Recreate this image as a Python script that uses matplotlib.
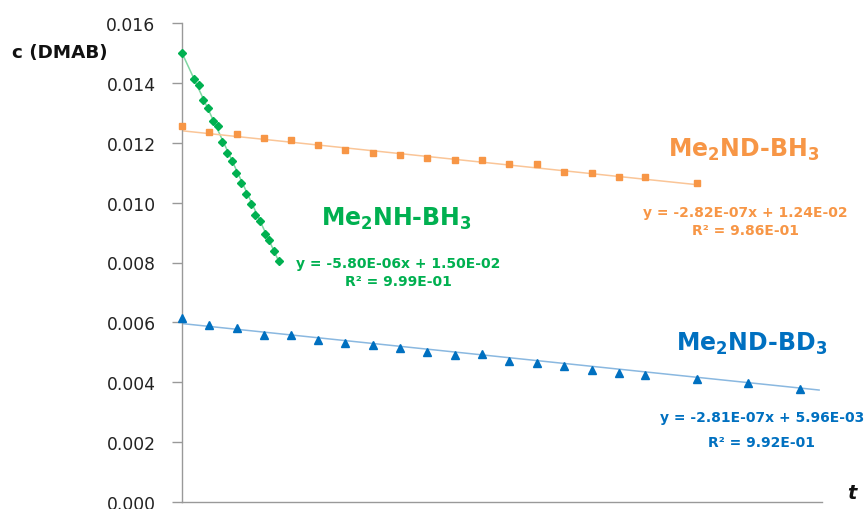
import numpy as np
import matplotlib
matplotlib.use("Agg")
import matplotlib.pyplot as plt

plt.rcParams['font.family'] = ['DejaVu Sans']
plt.rcParams['mathtext.fontset'] = 'dejavusans'

# ---- data ----
x_green = [0, 145, 207, 264, 322, 381, 443, 496, 558, 616, 673, 732, 794, 852,
           909, 967, 1025, 1083, 1141, 1203]
y_green = [0.014990, 0.014123, 0.013923, 0.013443, 0.013167, 0.012733, 0.012557,
           0.012033, 0.011643, 0.011400, 0.010977, 0.010667, 0.010277, 0.009967,
           0.009577, 0.009377, 0.008957, 0.008743, 0.008377, 0.008057]

x_orange = [0, 335, 678, 1013, 1348, 1690, 2025, 2365, 2703, 3042, 3381, 3720,
            4058, 4402, 4737, 5080, 5415, 5745, 6390]
y_orange = [0.012543, 0.012357, 0.012277, 0.012167, 0.012090, 0.011933, 0.011743,
            0.011643, 0.011577, 0.011477, 0.011410, 0.011410, 0.011277, 0.011300,
            0.011033, 0.010990, 0.010857, 0.010857, 0.010667]

x_blue = [0, 335, 678, 1013, 1348, 1690, 2025, 2365, 2703, 3042, 3381, 3720,
          4058, 4402, 4737, 5080, 5415, 5745, 6390, 7022, 7663]
y_blue = [0.006133, 0.005900, 0.005800, 0.005577, 0.005567, 0.005400, 0.005310,
          0.005233, 0.005133, 0.005023, 0.004910, 0.004957, 0.004723, 0.004643,
          0.004557, 0.004410, 0.004310, 0.004233, 0.004100, 0.003977, 0.003767]

# trendline coefficients (from chart equations)
slopes = [-5.80e-06, -2.82e-07, -2.81e-07]
intercepts = [1.50e-02, 1.24e-02, 5.96e-03]
trend_end = [1203, 6390, 7900]

names = [r'Me$_\mathbf{2}$NH-BH$_\mathbf{3}$',
         r'Me$_\mathbf{2}$ND-BH$_\mathbf{3}$',
         r'Me$_\mathbf{2}$ND-BD$_\mathbf{3}$']
eqs = ['y = -5.80E-06x + 1.50E-02', 'y = -2.82E-07x + 1.24E-02',
       'y = -2.81E-07x + 5.96E-03']
r2s = ['R² = 9.99E-01', 'R² = 9.86E-01', 'R² = 9.92E-01']

yticks = [0.000, 0.002, 0.004, 0.006, 0.008, 0.010, 0.012, 0.014, 0.016]

# ---- styling ----
green = '#00B050'
orange = '#F79646'
blue = '#0070C0'
colors = [green, orange, blue]
light = ['#7FD6A2', '#FAC597', '#8AB8E0']

W, H = 868, 510
fig = plt.figure(figsize=(W / 100, H / 100), dpi=100)
ax = fig.add_axes([182 / W, 7 / H, (822 - 182) / W, (503 - 24) / H])

series = [(x_green, y_green, 'D', 4.0), (x_orange, y_orange, 's', 4.6),
          (x_blue, y_blue, '^', 5.2)]
for i, (xs, ys, mk, ms) in enumerate(series):
    xt = np.array([0, trend_end[i]])
    ax.plot(xt, slopes[i] * xt + intercepts[i], color=light[i], lw=1.1, zorder=2)
    ax.plot(xs, ys, linestyle='none', marker=mk, ms=ms, color=colors[i],
            mec=colors[i], zorder=3, clip_on=False)

ax.set_xlim(0, 7936)
ax.set_ylim(0, 0.016)
ax.set_yticks(yticks)
ax.set_yticklabels([f'{v:.3f}' for v in yticks], fontsize=12.3, color='#222222')
ax.set_xticks([])
ax.tick_params(axis='y', direction='out', length=7, width=1, color='#999999', pad=12)
for s in ['top', 'right']:
    ax.spines[s].set_visible(False)
for s in ['left', 'bottom']:
    ax.spines[s].set_color('#999999')
    ax.spines[s].set_linewidth(1)

def ft(x, y, s, **kw):
    fig.text(x / W, 1 - y / H, s, **kw)

ft(12, 53, 'c (DMAB)', fontsize=13.2, fontweight='bold', ha='left', va='center',
   color='#111111')
ft(847, 494, 't', fontsize=14, fontweight='bold', style='italic', ha='left',
   va='center', color='#111111')

name_pos = [(396, 219), (744, 150), (752, 344)]
eq_pos = [(398, 264), (745, 213), (762, 418)]
r2_pos = [(398, 282), (745, 231), (762, 443)]
for i in range(3):
    ft(*name_pos[i], names[i], fontsize=17, fontweight='bold', color=colors[i],
       ha='center', va='center')
    ft(*eq_pos[i], eqs[i], fontsize=10, fontweight='bold', color=colors[i],
       ha='center', va='center')
    ft(*r2_pos[i], r2s[i], fontsize=10, fontweight='bold', color=colors[i],
       ha='center', va='center')

fig.savefig('out.png', dpi=100)
